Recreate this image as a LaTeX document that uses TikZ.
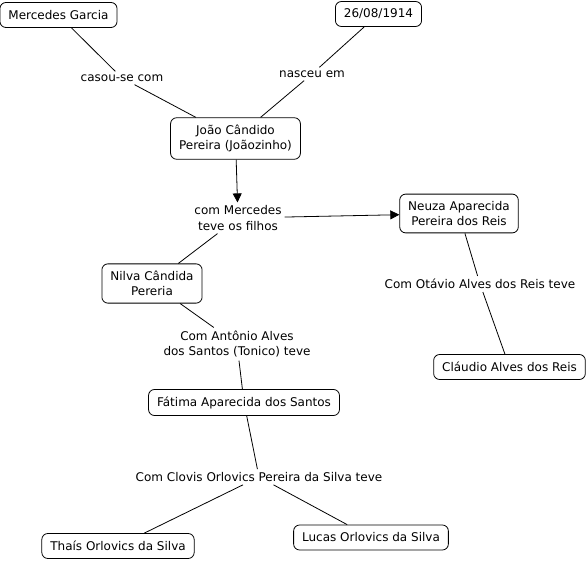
\documentclass[tikz,border=0pt]{standalone}
\usepackage{fontspec}
\setmainfont{DejaVu Sans}
\usetikzlibrary{arrows.meta}
\begin{document}
\begin{tikzpicture}[x=1pt, y=-1pt, font=\fontsize{12}{15.5}\selectfont,
  concept/.style={draw, rounded corners=6pt, align=center, fill=white,
    inner xsep=8.5pt, inner ysep=7pt, minimum height=25pt, line width=0.8pt},
  phrase/.style={align=center, inner sep=3pt},
  link/.style={line width=0.8pt},
  linkarrow/.style={link, -{Triangle[length=9pt, width=9pt]}}]

\useasboundingbox (0,0) rectangle (587,561);

%% ---------- top: Joãozinho ----------
\node[concept] (mercedes) at (58.5,15) {Mercedes Garcia};
\node[concept] (data) at (378.5,14) {26/08/1914};
\node[concept] (joao) at (235.5,138.5) {João Cândido\\Pereira (Joãozinho)};
\node[phrase] (casou) at (122,78) {casou-se com};
\node[phrase] (nasceu) at (312,74) {nasceu em};

\draw[link] (mercedes) -- (casou) -- (joao);
\draw[link] (data) -- (nasceu) -- (joao);

%% ---------- children ----------
\node[phrase] (filhos) at (238,218) {com Mercedes\\teve os filhos};
\node[concept] (neuza) at (459,213.5) {Neuza Aparecida\\Pereira dos Reis};
\node[concept] (nilva) at (152,283.5) {Nilva Cândida\\Pereria};

\draw[linkarrow] (joao) -- (filhos);
\draw[linkarrow] (filhos) -- (neuza);
\draw[link] (filhos) -- (nilva);

%% ---------- grandchildren ----------
\node[phrase] (otavio) at (480,284) {Com Otávio Alves dos Reis teve};
\node[concept] (claudio) at (509.5,367) {Cláudio Alves dos Reis};
\node[phrase] (tonico) at (237,344) {Com Antônio Alves\\dos Santos (Tonico) teve};
\node[concept] (fatima) at (244,402.5) {Fátima Aparecida dos Santos};

\draw[link] (neuza) -- (otavio) -- (claudio);
\draw[link] (nilva) -- (tonico) -- (fatima);

%% ---------- great-grandchildren ----------
\node[phrase] (clovis) at (259,477) {Com Clovis Orlovics Pereira da Silva teve};
\node[concept] (thais) at (118,546) {Thaís Orlovics da Silva};
\node[concept] (lucas) at (371,537.5) {Lucas Orlovics da Silva};

\draw[link] (fatima) -- (clovis);
\draw[link] (clovis) -- (thais);
\draw[link] (clovis) -- (lucas);

\end{tikzpicture}
\end{document}
